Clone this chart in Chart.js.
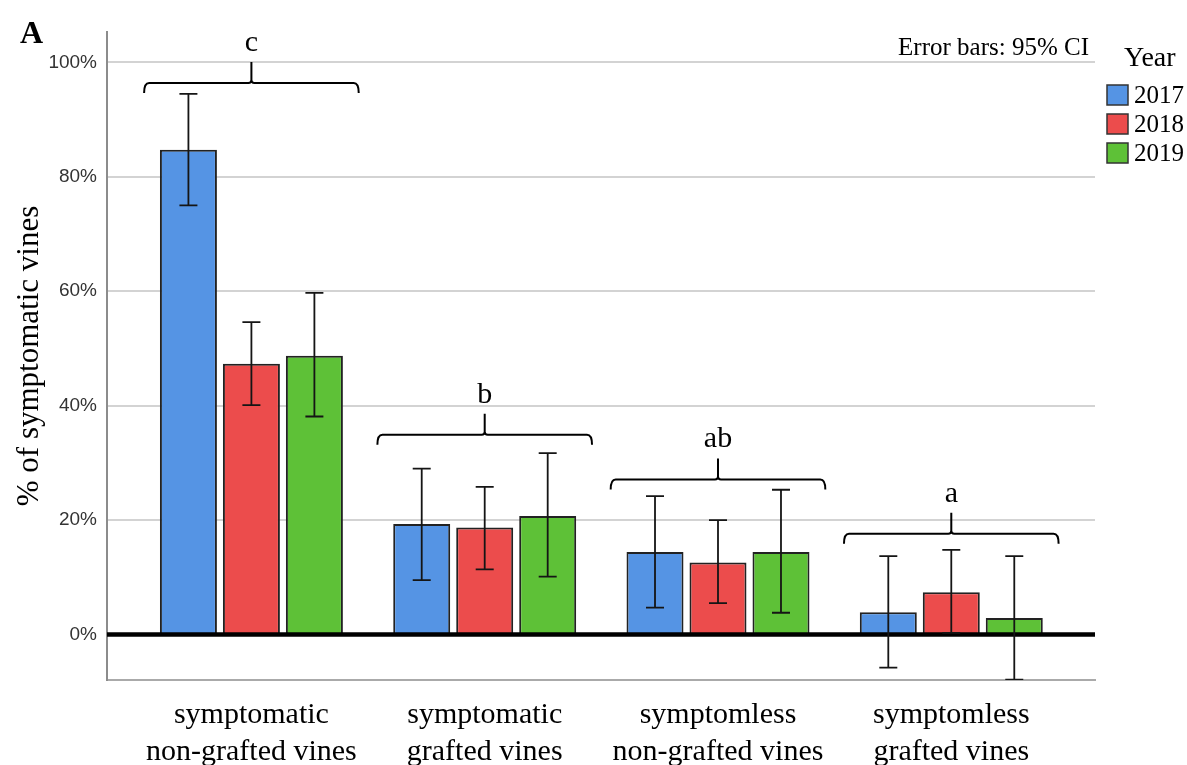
<!DOCTYPE html>
<html>
<head>
<meta charset="utf-8">
<title>% of symptomatic vines by year</title>
<script src="https://cdn.jsdelivr.net/npm/chart.js@4.4.1/dist/chart.umd.min.js"></script>
<style>
  html, body { margin: 0; padding: 0; background: #fff; }
  canvas { display: block; }
</style>
</head>
<body>
<canvas id="myChart" width="1187" height="765"></canvas>
<script>
// groups along the x axis (each label split over two lines)
var groupLabels = [
    ['symptomatic', 'non-grafted vines'],
    ['symptomatic', 'grafted vines'],
    ['symptomless', 'non-grafted vines'],
    ['symptomless', 'grafted vines']
];

var years = ['2017', '2018', '2019'];
var yearColors = ['#5594E4', '#EC4C4C', '#5EC137'];

// mean % of symptomatic vines per group
var values2017 = [84.7, 19.3, 14.4, 3.9];
var values2018 = [47.3, 18.7, 12.6, 7.4];
var values2019 = [48.7, 20.7, 14.4, 2.9];

// 95% confidence intervals
var ciLow2017 = [75.0, 9.5, 4.7, -5.8];
var ciHigh2017 = [94.5, 29.0, 24.2, 13.7];
var ciLow2018 = [40.1, 11.4, 5.5, 0.3];
var ciHigh2018 = [54.6, 25.8, 20.0, 14.8];
var ciLow2019 = [38.1, 10.1, 3.8, -7.9];
var ciHigh2019 = [59.7, 31.7, 25.3, 13.7];

// significance letters and the level of the bracket over each group
var groupLetters = ['c', 'b', 'ab', 'a'];
var bracketLevels = [96.4, 34.9, 27.1, 17.6];

var yTicks = [0, 20, 40, 60, 80, 100];

var serif = '"Liberation Serif", "Times New Roman", serif';
var sans = '"Liberation Sans", Arial, sans-serif';

function toPoints(values) {
    return values.map(function (v, i) { return { x: i, y: v }; });
}

var allValues = [values2017, values2018, values2019];
var allLow = [ciLow2017, ciLow2018, ciLow2019];
var allHigh = [ciHigh2017, ciHigh2018, ciHigh2019];

var chartData = {
    datasets: years.map(function (year, k) {
        return {
            label: year,
            data: toPoints(allValues[k]),
            ciLow: allLow[k],
            ciHigh: allHigh[k],
            backgroundColor: yearColors[k],
            borderColor: '#222',
            borderWidth: 2,
            categoryPercentage: 0.81,
            barPercentage: 0.905
        };
    })
};

// error bars, the thick zero line and the letter brackets
var overlayPlugin = {
    id: 'overlay',
    afterDatasetsDraw: function (chart) {
        var ctx = chart.ctx;
        var area = chart.chartArea;
        var xs = chart.scales.x;
        var ys = chart.scales.y;

        ctx.save();
        ctx.beginPath();
        ctx.rect(area.left, area.top, area.right - area.left, area.bottom - area.top);
        ctx.clip();

        // zero line over the bar bases
        ctx.strokeStyle = '#000';
        ctx.lineWidth = 4.5;
        ctx.beginPath();
        ctx.moveTo(area.left, ys.getPixelForValue(0));
        ctx.lineTo(area.right, ys.getPixelForValue(0));
        ctx.stroke();

        // whiskers
        ctx.strokeStyle = '#151515';
        ctx.lineWidth = 1.8;
        chart.data.datasets.forEach(function (ds, k) {
            var meta = chart.getDatasetMeta(k);
            meta.data.forEach(function (bar, i) {
                var x = bar.x;
                var yLo = ys.getPixelForValue(ds.ciLow[i]);
                var yHi = ys.getPixelForValue(ds.ciHigh[i]);
                ctx.beginPath();
                ctx.moveTo(x, yLo);
                ctx.lineTo(x, yHi);
                ctx.moveTo(x - 9, yHi);
                ctx.lineTo(x + 9, yHi);
                ctx.moveTo(x - 9, yLo);
                ctx.lineTo(x + 9, yLo);
                ctx.stroke();
            });
        });
        ctx.restore();

        // brackets with letters
        ctx.save();
        ctx.strokeStyle = '#000';
        ctx.lineWidth = 2;
        ctx.fillStyle = '#000';
        ctx.font = '30px ' + serif;
        ctx.textAlign = 'center';
        ctx.textBaseline = 'alphabetic';
        groupLetters.forEach(function (letter, i) {
            var xl = xs.getPixelForValue(i - 0.46);
            var xr = xs.getPixelForValue(i + 0.46);
            var xc = xs.getPixelForValue(i);
            var y = ys.getPixelForValue(bracketLevels[i]);
            ctx.beginPath();
            ctx.moveTo(xl, y + 10);
            ctx.quadraticCurveTo(xl, y, xl + 5, y);
            ctx.lineTo(xc - 3, y);
            ctx.quadraticCurveTo(xc, y, xc, y - 3);
            ctx.lineTo(xc, y - 21);
            ctx.moveTo(xc, y - 3);
            ctx.quadraticCurveTo(xc, y, xc + 3, y);
            ctx.lineTo(xr - 5, y);
            ctx.quadraticCurveTo(xr, y, xr, y + 10);
            ctx.stroke();
            ctx.fillText(letter, xc, y - 32);
        });
        ctx.restore();
    },
    afterDraw: function (chart) {
        var ctx = chart.ctx;
        ctx.save();
        ctx.fillStyle = '#000';

        // panel letter
        ctx.font = 'bold 32px ' + serif;
        ctx.textAlign = 'left';
        ctx.textBaseline = 'alphabetic';
        ctx.fillText('A', 20, 43);

        ctx.font = '25px ' + serif;
        ctx.textAlign = 'right';
        ctx.fillText('Error bars: 95% CI', 1089, 55);

        // legend
        ctx.font = '28px ' + serif;
        ctx.textAlign = 'left';
        ctx.fillText('Year', 1124, 66);
        ctx.font = '25px ' + serif;
        ctx.textBaseline = 'middle';
        chart.data.datasets.forEach(function (ds, k) {
            var top = 85 + k * 29;
            ctx.fillStyle = ds.backgroundColor;
            ctx.fillRect(1107, top, 21, 20);
            ctx.strokeStyle = '#333';
            ctx.lineWidth = 1.5;
            ctx.strokeRect(1107, top, 21, 20);
            ctx.fillStyle = '#000';
            ctx.fillText(ds.label, 1134, top + 11);
        });
        ctx.restore();
    }
};

var chartOptions = {
    responsive: false,
    animation: false,
    layout: {
        padding: { left: 0, right: 92, top: 32, bottom: 0 }
    },
    plugins: {
        legend: { display: false },
        tooltip: { enabled: false }
    },
    scales: {
        x: {
            type: 'linear',
            offset: false,
            min: -0.619,
            max: 3.616,
            afterBuildTicks: function (scale) {
                scale.ticks = groupLabels.map(function (_, i) { return { value: i }; });
            },
            afterFit: function (scale) { scale.height = 85; },
            grid: { display: false, drawTicks: false },
            border: { display: true, color: '#aaaaaa', width: 2 },
            ticks: {
                autoSkip: false,
                maxRotation: 0,
                padding: 17,
                color: '#000',
                font: { family: serif, size: 30, lineHeight: 1.23 },
                callback: function (value, index) { return groupLabels[index]; }
            }
        },
        y: {
            min: -7.95,
            max: 105.3,
            afterBuildTicks: function (scale) {
                scale.ticks = yTicks.map(function (v) { return { value: v }; });
            },
            afterFit: function (scale) { scale.width = 107; },
            grid: {
                drawTicks: false,
                lineWidth: 2,
                color: function (c) { return c.tick && c.tick.value === 0 ? 'rgba(0,0,0,0)' : '#d3d3d3'; }
            },
            border: { display: true, color: '#8c8c8c', width: 2 },
            ticks: {
                padding: 10,
                color: '#333',
                font: { family: sans, size: 19 },
                callback: function (v) { return v + '%'; }
            },
            title: {
                display: true,
                text: '% of symptomatic vines',
                color: '#000',
                font: { family: serif, size: 31 },
                padding: { top: 11, bottom: 0 }
            }
        }
    }
};

var element = document.getElementById('myChart').getContext('2d');
var chart = new Chart(element, { type: 'bar', data: chartData, options: chartOptions, plugins: [overlayPlugin] });
</script>
</body>
</html>
